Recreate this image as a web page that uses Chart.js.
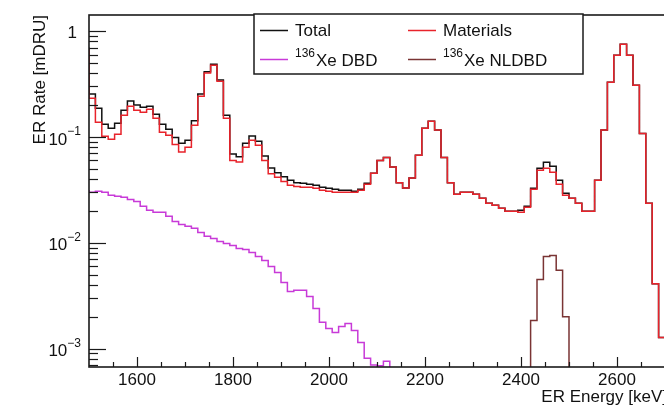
<!DOCTYPE html>
<html>
<head>
<meta charset="utf-8">
<script src="https://cdn.jsdelivr.net/npm/chart.js@4"></script>
<style>
  html, body { margin: 0; padding: 0; background: #fff; overflow: hidden; }
  #wrap { width: 664px; height: 406px; overflow: hidden; position: relative; }
  #wrap canvas { position: absolute; left: 0; top: 0; }
</style>
</head>
<body>
<div id="wrap"><canvas id="erChart" width="680" height="406"></canvas></div>
<script>
// binning (keV): 90 bins over 1500-2700, plus one bin below the range
const binWidth = 40 / 3
const firstEdge = 1500 - binWidth
const xMin = 1500
const xMax = 2700
const yMin = 6.7e-4
const yMax = 1.42

// ER rate per bin [mDRU], first entry is the bin just below 1500 keV
const totalRate = [0.69,
  0.254, 0.187, 0.132, 0.121, 0.135, 0.179, 0.218, 0.200, 0.191, 0.195,
  0.164, 0.132, 0.118, 0.099, 0.087, 0.093, 0.142, 0.255, 0.412, 0.487,
  0.346, 0.160, 0.069, 0.065, 0.087, 0.102, 0.091, 0.066, 0.051, 0.046,
  0.042, 0.039, 0.037, 0.0365, 0.0357, 0.0349, 0.0334, 0.0327, 0.032, 0.0313,
  0.0313, 0.0306, 0.032, 0.0365, 0.0454, 0.060, 0.064, 0.052, 0.037, 0.033,
  0.041, 0.067, 0.121, 0.141, 0.116, 0.064, 0.037, 0.0287, 0.030, 0.030,
  0.0287, 0.0263, 0.0236, 0.0226, 0.0212, 0.0198, 0.0198, 0.0203, 0.0221, 0.0327,
  0.0506, 0.0576, 0.0528, 0.0389, 0.0293, 0.0263, 0.0236, 0.0198, 0.0198, 0.0389,
  0.116, 0.329, 0.593, 0.753, 0.593, 0.308, 0.108, 0.0236, 0.0041, 0.00127]

const materialsRate = [0.66,
  0.232, 0.138, 0.1015, 0.095, 0.106, 0.160, 0.195, 0.179, 0.171, 0.183,
  0.150, 0.111, 0.104, 0.085, 0.072, 0.080, 0.129, 0.243, 0.401, 0.477,
  0.336, 0.150, 0.060, 0.058, 0.080, 0.093, 0.0835, 0.060, 0.045, 0.0416,
  0.038, 0.035, 0.034, 0.0334, 0.0334, 0.0327, 0.0313, 0.0306, 0.030, 0.030,
  0.030, 0.030, 0.0313, 0.0357, 0.0454, 0.060, 0.064, 0.052, 0.037, 0.033,
  0.041, 0.067, 0.121, 0.141, 0.116, 0.064, 0.037, 0.0287, 0.030, 0.030,
  0.0287, 0.0263, 0.0236, 0.0226, 0.0212, 0.0198, 0.0198, 0.0194, 0.0216, 0.032,
  0.0484, 0.0506, 0.0464, 0.0357, 0.0281, 0.0263, 0.0236, 0.0198, 0.0198, 0.0389,
  0.116, 0.329, 0.593, 0.753, 0.593, 0.308, 0.108, 0.0236, 0.0041, 0.00127]

// 136Xe DBD, same binning, falls below the axis after ~2120 keV
const dbdRate = [0.031,
  0.030, 0.0306, 0.030, 0.0281, 0.0275, 0.0269, 0.0257, 0.0246, 0.0221, 0.0203,
  0.0194, 0.0194, 0.0178, 0.0159, 0.0149, 0.0143, 0.0137, 0.0125, 0.0115, 0.0110,
  0.0103, 0.00986, 0.00944, 0.00885, 0.00866, 0.00811, 0.00743, 0.00681, 0.00598, 0.00525,
  0.00422, 0.00347, 0.00355, 0.00355, 0.00311, 0.00239, 0.00177, 0.00155, 0.00142, 0.00162,
  0.00173, 0.00148, 0.00114, 0.00081, 0.00070, 0.00069, 0.00076]

// 136Xe NLDBD peak at Q = 2458 keV
const nldbdFirstEdge = 2420
const nldbdRate = [0.00184, 0.0045, 0.0074, 0.0076, 0.0055, 0.0020]

const xTickLabels = [1600, 1800, 2000, 2200, 2400, 2600]
const yTickExponents = [0, -1, -2, -3]

const fontFamily = "'Liberation Sans', Arial, Helvetica, sans-serif"

// turn bin contents into an outline (horizontal top + vertical edges)
function histPoints(values, start, fromFloor, toFloor) {
  const floor = yMin / 100
  const pts = []
  if (fromFloor) pts.push({ x: start, y: floor })
  values.forEach((v, i) => {
    const lo = start + i * binWidth
    pts.push({ x: lo, y: v }, { x: lo + binWidth, y: v })
  })
  if (toFloor) pts.push({ x: start + values.length * binWidth, y: floor })
  return pts
}

function histDataset(label, color, points, order) {
  return {
    label: label,
    data: points,
    borderColor: color,
    borderWidth: 1.5,
    pointRadius: 0,
    tension: 0,
    fill: false,
    order: order
  }
}

// ROOT-like frame: inward ticks, labels with superscripts, titles and legend
const rootFrame = {
  id: "rootFrame",
  afterDatasetsDraw(chart) {
    const { ctx, chartArea: a, scales: { x, y } } = chart
    ctx.save()
    ctx.strokeStyle = "#1a1a1a"
    ctx.fillStyle = "#111"

    // x ticks, minor every 50 keV, major every 200 keV
    ctx.lineWidth = 1.2
    for (let e = xMin + 50; e < xMax; e += 50) {
      const px = Math.round(x.getPixelForValue(e)) + 0.5
      const len = e % 200 === 0 ? 10 : 5
      ctx.beginPath()
      ctx.moveTo(px, a.bottom)
      ctx.lineTo(px, a.bottom - len)
      ctx.stroke()
    }

    // y ticks on the log axis
    for (let d = -4; d <= 0; d++) {
      for (let m = 1; m <= 9; m++) {
        const v = m * Math.pow(10, d)
        if (v < yMin || v > yMax) continue
        const py = Math.round(y.getPixelForValue(v)) + 0.5
        const len = m === 1 ? 17 : 9
        ctx.beginPath()
        ctx.moveTo(a.left, py)
        ctx.lineTo(a.left + len, py)
        ctx.stroke()
      }
    }

    // frame
    ctx.lineWidth = 1.6
    ctx.strokeRect(a.left, a.top, a.right - a.left, a.bottom - a.top)

    // x tick labels
    ctx.font = "17px " + fontFamily
    ctx.textAlign = "center"
    ctx.textBaseline = "middle"
    xTickLabels.forEach(e => {
      ctx.fillText(String(e), x.getPixelForValue(e), a.bottom + 13)
    })

    // y tick labels: 1, 10^-1, ...
    const labelRight = a.left - 8
    yTickExponents.forEach(p => {
      const py = y.getPixelForValue(Math.pow(10, p))
      ctx.textAlign = "right"
      ctx.textBaseline = "middle"
      if (p === 0) {
        ctx.font = "17px " + fontFamily
        ctx.fillText("1", labelRight - 4, py + 2)
        return
      }
      const sup = "\u2212" + String(-p)
      ctx.font = "12px " + fontFamily
      const supW = ctx.measureText(sup).width
      ctx.fillText(sup, labelRight, py - 5)
      ctx.font = "17px " + fontFamily
      ctx.fillText("10", labelRight - supW, py + 3)
    })

    // axis titles
    ctx.font = "17px " + fontFamily
    ctx.textAlign = "right"
    ctx.textBaseline = "middle"
    ctx.fillText("ER Energy [keV]", a.right + 2, a.bottom + 30)
    ctx.save()
    ctx.translate(40, a.top)
    ctx.rotate(-Math.PI / 2)
    ctx.textAlign = "right"
    ctx.fillText("ER Rate [mDRU]", 0, 0)
    ctx.restore()

    // legend box
    const box = { left: 254, top: 14, right: 583, bottom: 74 }
    ctx.fillStyle = "#fff"
    ctx.fillRect(box.left, box.top, box.right - box.left, box.bottom - box.top)
    ctx.lineWidth = 1.5
    ctx.strokeStyle = "#1a1a1a"
    ctx.strokeRect(box.left, box.top, box.right - box.left, box.bottom - box.top)

    const cols = [260, 408]
    const rows = [30, 59]
    chart.data.datasets.forEach((ds, i) => {
      const cx = cols[i % 2]
      const cy = rows[Math.floor(i / 2)]
      ctx.strokeStyle = ds.borderColor
      ctx.lineWidth = 1.5
      ctx.beginPath()
      ctx.moveTo(cx, cy + 0.5)
      ctx.lineTo(cx + 28, cy + 0.5)
      ctx.stroke()

      ctx.fillStyle = "#111"
      ctx.textAlign = "left"
      ctx.textBaseline = "middle"
      let tx = cx + 35
      const m = ds.label.match(/^(\d+)(.*)$/)
      if (m) {
        ctx.font = "12px " + fontFamily
        ctx.fillText(m[1], tx, cy - 5)
        tx += ctx.measureText(m[1]).width + 1
        ctx.font = "17px " + fontFamily
        ctx.fillText(m[2], tx, cy + 2)
      } else {
        ctx.font = "17px " + fontFamily
        ctx.fillText(ds.label, tx, cy + 1)
      }
    })
    ctx.restore()
  }
}

const ctx = document.getElementById("erChart").getContext("2d")

new Chart(ctx, {
  type: "line",
  data: {
    datasets: [
      histDataset("Total", "#111111", histPoints(totalRate, firstEdge, false, false), 4),
      histDataset("Materials", "#e8232b", histPoints(materialsRate, firstEdge, false, false), 3),
      histDataset("136Xe DBD", "#c83ad8", histPoints(dbdRate, firstEdge, false, true), 2),
      histDataset("136Xe NLDBD", "#7a3434", histPoints(nldbdRate, nldbdFirstEdge, true, true), 1)
    ]
  },
  options: {
    responsive: false,
    animation: false,
    events: [],
    layout: {
      padding: { left: 89, top: 15, right: 15, bottom: 39 }
    },
    plugins: {
      legend: { display: false },
      tooltip: { enabled: false }
    },
    scales: {
      x: { type: "linear", min: xMin, max: xMax, display: false },
      y: { type: "logarithmic", min: yMin, max: yMax, display: false }
    }
  },
  plugins: [rootFrame]
})
</script>
</body>
</html>
